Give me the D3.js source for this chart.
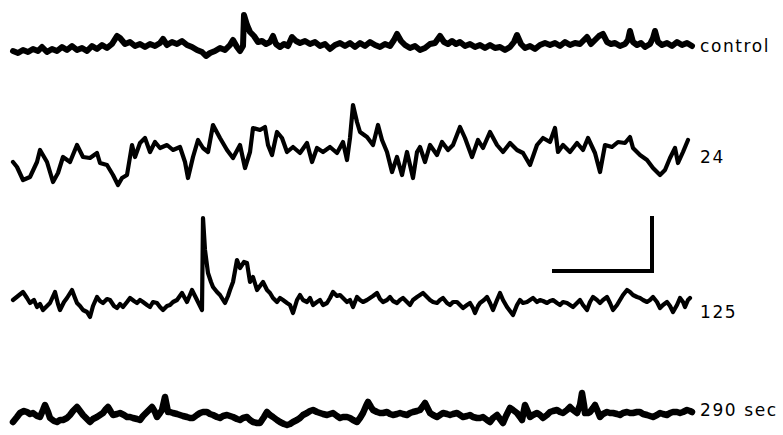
<!DOCTYPE html>
<html>
<head>
<meta charset="utf-8">
<script src="https://cdn.jsdelivr.net/npm/d3@7"></script>
<style>
  html, body { margin: 0; padding: 0; background: #fff; }
  svg { display: block; }
</style>
</head>
<body>
<div id="chart"></div>
<script>
// Recording labels (time after treatment)
const traceLabels = ['control', '24', '125', '290 sec'];

// Each trace: [time, deflection] pairs (time in chart units, deflection upward positive)
const controlTrace = [
  [13,-3],[18,-5],[23,-2],[28,-4],[33,-1],[38,-3],[42,1],[47,-4],[52,-1],[57,-3],[62,1],[67,-2],
  [72,2],[77,-2],[82,0],[87,-3],[92,2],[97,-1],[102,3],[107,0],[112,4],[117,12],[120,10],[125,4],
  [130,6],[135,2],[140,4],[145,1],[150,4],[155,2],[160,5],[163,9],[167,3],[172,6],[177,4],[182,7],
  [187,3],[192,1],[197,-2],[202,-4],[206,-8],[210,-5],[215,-3],[220,0],[225,-2],[230,3],[233,8],
  [237,1],[240,-3],[243,2],[244,33],[247,23],[250,16],[254,12],[258,6],[262,7],[266,4],[270,6],
  [273,12],[276,4],[280,1],[284,4],[288,2],[292,11],[296,7],[300,5],[305,7],[310,4],[315,6],
  [320,2],[325,4],[330,-1],[335,3],[340,5],[345,2],[350,5],[355,1],[360,5],[365,2],[370,6],
  [375,3],[380,1],[385,4],[390,2],[394,8],[397,14],[401,7],[405,3],[410,0],[415,2],[420,-2],
  [425,0],[430,4],[435,5],[440,12],[444,6],[448,4],[452,7],[456,4],[460,6],[465,2],[470,4],
  [475,1],[480,3],[485,0],[490,3],[495,0],[500,1],[505,-2],[510,1],[514,6],[517,13],[521,4],
  [525,0],[530,2],[535,-1],[540,3],[545,5],[550,3],[555,5],[560,2],[565,6],[570,3],[575,5],
  [580,4],[584,8],[587,11],[591,4],[595,8],[599,12],[603,14],[607,6],[611,4],[615,5],[620,2],
  [625,4],[628,8],[630,17],[633,6],[637,3],[641,5],[645,1],[650,4],[653,10],[655,17],[658,6],
  [662,3],[667,5],[672,2],[677,6],[682,3],[687,5],[692,2]
];

const trace24 = [
  [13,-10],[17,-15],[23,-28],[30,-25],[37,-10],[40,2],[47,-10],[53,-30],[58,-21],[63,-5],[70,-10],
  [77,7],[83,-5],[90,-6],[97,-1],[100,-11],[107,-13],[113,-23],[118,-33],[122,-26],[127,-23],
  [132,7],[135,-5],[140,9],[145,14],[150,0],[155,10],[160,4],[167,7],[173,2],[180,5],[185,-10],
  [188,-26],[193,-5],[198,12],[203,4],[208,0],[213,27],[220,14],[227,2],[233,-6],[240,7],
  [245,-16],[250,0],[253,24],[260,22],[265,25],[268,7],[272,-3],[277,20],[282,14],[287,0],
  [293,5],[300,-1],[307,9],[312,-10],[317,4],[323,0],[330,5],[337,-1],[343,10],[347,-8],[350,14],
  [353,47],[357,30],[360,20],[367,15],[373,7],[378,27],[382,12],[387,0],[392,-20],[397,-5],
  [402,-23],[407,0],[413,-26],[417,0],[420,5],[425,-10],[430,7],[437,-3],[442,10],[448,2],
  [453,7],[460,25],[465,14],[472,-5],[478,12],[483,4],[490,20],[497,7],[503,0],[510,9],[517,2],
  [523,-1],[530,-13],[537,7],[543,14],[550,10],[555,24],[558,0],[563,7],[570,0],[577,9],[583,2],
  [588,14],[595,-1],[600,-20],[605,7],[612,5],[618,10],[625,9],[630,15],[633,4],[640,-3],
  [647,-8],[653,-16],[660,-23],[665,-18],[670,-6],[675,4],[678,-11],[683,0],[688,12]
];

const trace125 = [
  [13,2],[18,6],[23,10],[27,4],[30,-1],[34,2],[37,-5],[40,-2],[43,-8],[47,-4],[50,-1],[55,10],
  [58,-2],[60,-8],[64,0],[67,4],[72,12],[75,4],[77,-1],[80,-4],[83,-8],[87,-10],[90,-15],[93,-4],
  [97,5],[100,1],[103,-1],[107,3],[110,2],[114,-4],[117,-6],[120,-2],[123,-5],[127,0],[130,4],
  [134,1],[137,-1],[140,2],[143,0],[147,-3],[150,-5],[153,0],[157,-1],[160,-5],[163,-8],[167,-4],
  [170,-3],[173,0],[177,2],[182,9],[187,0],[192,12],[195,6],[197,2],[200,-4],[202,-8],[203,84],
  [205,52],[208,29],[211,20],[213,15],[217,10],[220,7],[225,-1],[228,6],[230,12],[233,20],
  [237,42],[240,34],[244,40],[247,39],[250,20],[253,25],[257,12],[260,16],[263,20],[267,12],
  [270,9],[273,4],[277,0],[280,4],[283,2],[287,-1],[290,-3],[293,-11],[297,2],[300,7],[303,2],
  [307,0],[310,4],[313,-3],[317,0],[320,2],[323,-3],[327,-1],[330,4],[333,10],[337,6],[340,7],
  [344,3],[347,0],[350,2],[353,-5],[357,5],[360,2],[363,0],[367,2],[370,4],[373,6],[377,9],
  [380,3],[383,0],[387,2],[390,5],[393,1],[397,-1],[400,2],[403,4],[407,0],[410,-3],[413,2],
  [417,5],[420,7],[423,9],[427,5],[430,2],[433,0],[437,-1],[440,2],[443,4],[447,-1],[450,-3],
  [453,0],[457,0],[460,-3],[463,-6],[467,-3],[470,-1],[473,-6],[475,-11],[478,-4],[480,-1],
  [484,2],[487,5],[490,-1],[493,-8],[497,2],[500,9],[503,2],[507,-5],[510,-9],[513,-13],[517,-3],
  [520,2],[523,-1],[527,0],[530,2],[533,4],[537,0],[540,2],[543,1],[547,-1],[550,1],[553,2],
  [557,-1],[560,-3],[563,0],[567,-1],[570,-3],[573,-5],[577,-1],[580,2],[583,-3],[587,-8],
  [590,0],[593,5],[597,2],[600,-1],[603,2],[607,5],[610,-1],[613,-8],[617,-3],[620,2],[623,7],
  [627,12],[630,10],[633,7],[637,5],[640,4],[643,2],[647,0],[650,2],[653,5],[657,0],[660,-6],
  [663,-3],[667,0],[670,-4],[673,-10],[677,-3],[680,4],[683,0],[685,-5],[688,2],[690,4]
];

const trace290 = [
  [13,-7],[17,-2],[20,2],[24,4],[27,3],[30,1],[33,2],[37,-1],[40,-2],[43,5],[45,10],[48,3],
  [50,-3],[54,-6],[57,-7],[60,-5],[63,-5],[67,-3],[70,0],[73,4],[77,8],[80,4],[83,0],[87,-4],
  [90,-7],[93,-4],[97,-2],[100,0],[103,2],[106,6],[108,8],[111,3],[113,0],[117,1],[120,2],
  [124,0],[127,-2],[130,-2],[133,-3],[137,-4],[140,-5],[143,-1],[147,3],[150,6],[152,8],[155,3],
  [157,-2],[160,2],[162,5],[165,18],[168,3],[170,3],[173,2],[177,1],[180,0],[183,-1],[187,-2],
  [190,-3],[193,-3],[197,0],[200,2],[203,3],[207,3],[210,1],[213,0],[217,-2],[220,-3],[223,-1],
  [227,0],[230,-1],[233,-2],[237,-4],[240,-5],[243,-3],[247,-2],[250,-5],[253,-7],[257,-8],
  [260,-8],[264,-2],[267,3],[270,0],[273,-2],[277,-5],[280,-7],[284,-9],[287,-10],[290,-9],
  [293,-7],[297,-5],[300,-3],[303,0],[307,2],[310,4],[313,5],[317,3],[320,2],[323,1],[327,0],
  [330,1],[333,2],[337,-1],[340,-3],[343,-2],[347,-2],[350,-3],[353,-5],[357,-7],[360,-3],
  [363,2],[366,9],[368,13],[371,8],[373,5],[377,3],[380,2],[383,2],[387,3],[390,1],[393,0],
  [397,1],[400,2],[403,1],[407,0],[410,2],[413,3],[417,4],[420,5],[423,9],[425,12],[428,6],
  [430,2],[433,0],[437,-2],[440,0],[443,2],[447,1],[450,0],[453,1],[457,2],[460,0],[463,-2],
  [467,-1],[470,0],[473,-2],[477,-3],[480,-3],[483,-2],[487,-5],[490,-7],[493,-3],[497,0],
  [500,-4],[503,-8],[506,-1],[510,7],[513,5],[517,2],[520,-2],[522,-5],[525,10],[528,3],[530,-2],
  [533,0],[537,2],[540,0],[543,-3],[547,0],[550,3],[553,4],[557,5],[560,3],[563,2],[567,5],
  [570,8],[573,5],[577,2],[580,10],[582,22],[584,10],[585,2],[588,2],[590,3],[593,7],[595,10],
  [598,3],[600,-2],[603,1],[607,3],[610,2],[613,2],[617,1],[620,0],[623,2],[627,3],[630,2],
  [633,2],[637,3],[640,3],[643,1],[647,0],[650,-1],[653,-2],[657,0],[660,2],[663,1],[667,0],
  [670,2],[673,3],[677,3],[680,2],[683,3],[687,5],[690,4],[692,3]
];

const width = 783, height = 435;

// Layout: baseline, stroke and label baseline for each row
const rows = [
  { data: controlTrace, base: 48,  stroke: 6,   labelY: 52 },
  { data: trace24,      base: 152, stroke: 4.2, labelY: 163 },
  { data: trace125,     base: 302, stroke: 4.2, labelY: 318 },
  { data: trace290,     base: 415, stroke: 6.5, labelY: 416 }
];

const svg = d3.select('#chart').append('svg')
  .attr('width', width)
  .attr('height', height)
  .attr('viewBox', `0 0 ${width} ${height}`);

svg.append('rect').attr('width', width).attr('height', height).attr('fill', '#fff');

const x = d3.scaleLinear().domain([0, 700]).range([0, 700]);

rows.forEach((row, i) => {
  const y = d3.scaleLinear().domain([0, 10]).range([row.base, row.base - 10]);
  const line = d3.line()
    .x(d => x(d[0]))
    .y(d => y(d[1]));

  svg.append('path')
    .datum(row.data)
    .attr('class', 'trace')
    .attr('d', line)
    .attr('fill', 'none')
    .attr('stroke', '#000')
    .attr('stroke-width', row.stroke)
    .attr('stroke-linejoin', 'round')
    .attr('stroke-linecap', 'round');

  svg.append('text')
    .attr('x', 700)
    .attr('y', row.labelY)
    .attr('font-family', 'DejaVu Sans, sans-serif')
    .attr('font-size', 17)
    .attr('letter-spacing', 1.6)
    .attr('fill', '#000')
    .text(traceLabels[i]);
});

// calibration bar
svg.append('path')
  .attr('d', 'M552,271 L652,271 L652,216')
  .attr('fill', 'none')
  .attr('stroke', '#000')
  .attr('stroke-width', 4)
  .attr('stroke-linejoin', 'miter');
</script>
</body>
</html>
